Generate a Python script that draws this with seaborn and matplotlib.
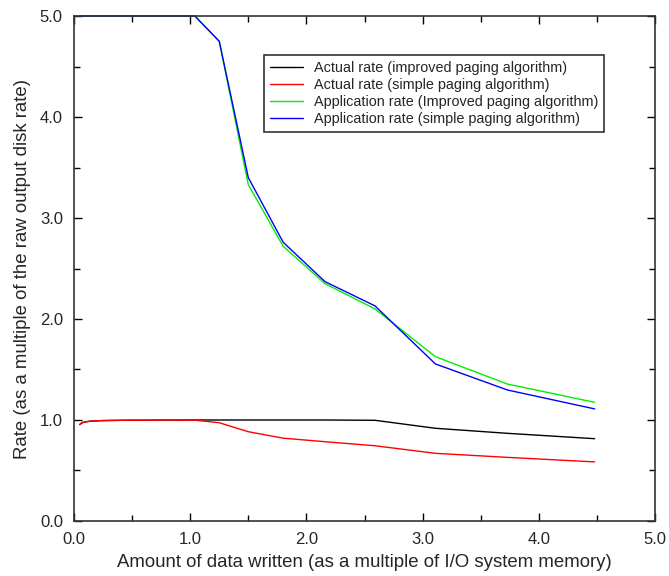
import numpy as np
import pandas as pd
import matplotlib
matplotlib.use("Agg")
import matplotlib.pyplot as plt
import seaborn as sns

# Data
x_written = [0.05, 0.06, 0.07, 0.08, 0.10, 0.12, 0.14, 0.17, 0.20, 0.24, 0.29,
             0.35, 0.42, 0.51, 0.61, 0.73, 0.88, 1.04, 1.25, 1.50, 1.80, 2.16,
             2.59, 3.11, 3.73, 4.48]
actual_improved = [0.955, 0.965, 0.972, 0.977, 0.982, 0.985, 0.988, 0.990, 0.992,
                   0.994, 0.995, 0.996, 0.997, 0.998, 0.998, 0.999, 0.999, 1.000,
                   1.000, 1.000, 1.000, 1.000, 0.997, 0.918, 0.868, 0.815]
actual_simple = [0.955, 0.965, 0.972, 0.977, 0.982, 0.985, 0.988, 0.990, 0.992,
                 0.994, 0.995, 0.996, 0.997, 0.998, 0.998, 0.999, 0.999, 0.998,
                 0.973, 0.884, 0.820, 0.785, 0.745, 0.670, 0.630, 0.585]
app_improved = [19.1, 16.1, 13.9, 12.2, 9.8, 8.2, 7.1, 6.6, 6.3, 6.0, 5.8,
                5.6, 5.45, 5.3, 5.2, 5.12, 5.06, 5.015, 4.75, 3.33, 2.72, 2.35,
                2.10, 1.627, 1.356, 1.175]
app_simple = [19.1, 16.1, 13.9, 12.2, 9.8, 8.2, 7.1, 6.6, 6.3, 6.0, 5.8,
              5.6, 5.45, 5.3, 5.2, 5.12, 5.06, 5.015, 4.75, 3.40, 2.76, 2.37,
              2.13, 1.555, 1.297, 1.110]

labels = ["Actual rate (improved paging algorithm)",
          "Actual rate (simple paging algorithm)",
          "Application rate (Improved paging algorithm)",
          "Application rate (simple paging algorithm)"]
colors = ["#000000", "#ff0000", "#00ee00", "#0000ff"]

x_ticks = [0.0, 1.0, 2.0, 3.0, 4.0, 5.0]
y_ticks = [0.0, 1.0, 2.0, 3.0, 4.0, 5.0]
y_max = 5.0

sns.set_style("ticks")
plt.rcParams['font.family'] = ['Liberation Sans', 'DejaVu Sans']

series = [actual_improved, actual_simple, app_improved, app_simple]
frames = []
for lab, vals in zip(labels, series):
    # out-of-range points are drawn on the plot border (as in the original)
    frames.append(pd.DataFrame({"x": x_written,
                                "rate": np.minimum(np.array(vals), y_max),
                                "series": lab}))
df = pd.concat(frames, ignore_index=True)

fig = plt.figure(figsize=(6.69, 5.76), dpi=100)
ax = fig.add_axes([0.1106, 0.0955, 0.8685, 0.8767])

sns.lineplot(data=df, x="x", y="rate", hue="series", hue_order=labels,
             palette=dict(zip(labels, colors)), linewidth=1.0, ax=ax,
             sort=False, estimator=None, clip_on=False)

ax.set_xlim(0, 5)
ax.set_ylim(0, 5)
ax.set_xticks(x_ticks)
ax.set_yticks(y_ticks)
ax.set_xticklabels([f"{v:.1f}" for v in x_ticks])
ax.set_yticklabels([f"{v:.1f}" for v in y_ticks])
ax.set_xticks([0.5, 1.5, 2.5, 3.5, 4.5], minor=True)
ax.set_yticks([0.5, 1.5, 2.5, 3.5, 4.5], minor=True)
ax.tick_params(which="both", direction="in", top=True, right=True,
               labelsize=12, color="black", width=1.0)
ax.tick_params(which="major", length=6, pad=8)
ax.tick_params(which="minor", length=4)
for sp in ax.spines.values():
    sp.set_visible(True)
    sp.set_color("#333333")
    sp.set_linewidth(1.2)

ax.set_xlabel("Amount of data written (as a multiple of I/O system memory)",
              fontsize=13.4, labelpad=5)
ax.set_ylabel("Rate (as a multiple of the raw output disk rate)",
              fontsize=13.4, labelpad=6)

leg = ax.legend(loc="upper left", bbox_to_anchor=(0.327, 0.923),
                fontsize=10.4, frameon=True, fancybox=False,
                handlelength=2.3, handletextpad=0.75, borderpad=0.4,
                labelspacing=0.22, borderaxespad=0)
leg.get_frame().set_edgecolor("#333333")
leg.get_frame().set_linewidth(1.2)
leg.get_frame().set_alpha(1)

fig.savefig("out.png", dpi=100)
